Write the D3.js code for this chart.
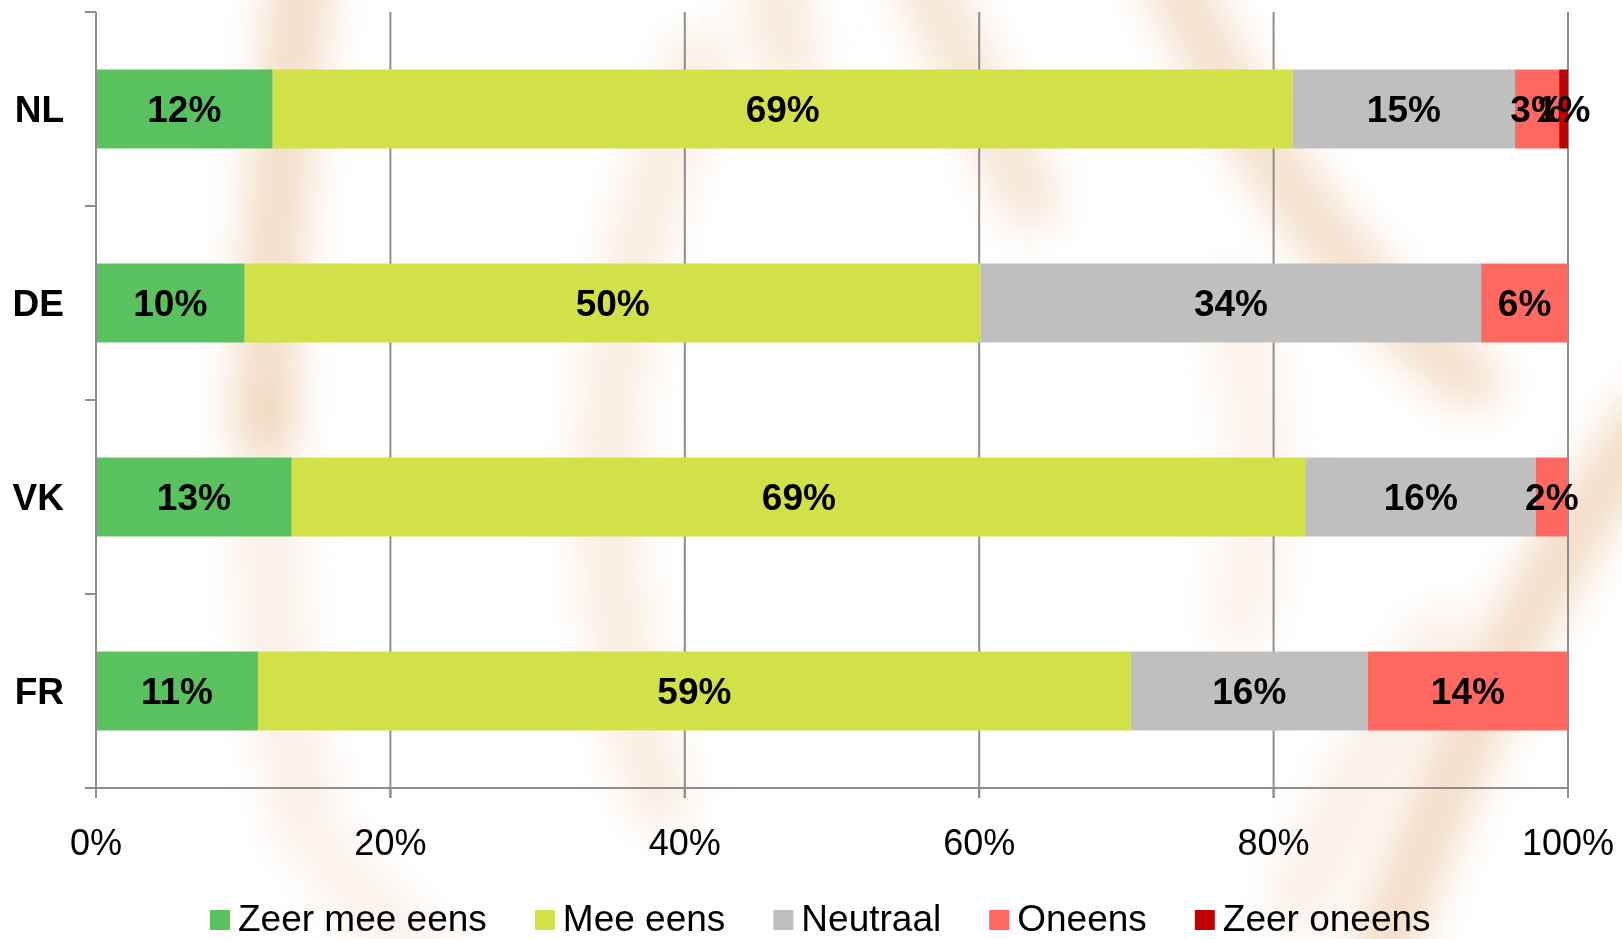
<!DOCTYPE html>
<html>
<head>
<meta charset="utf-8">
<script src="https://cdn.jsdelivr.net/npm/d3@7"></script>
<style>
  body { margin: 0; background: #fff; }
  svg { display: block; font-family: "Liberation Sans", Arial, sans-serif; }
</style>
</head>
<body>
<svg id="chart" width="1622" height="939"></svg>
<script>
// data (percent of respondents)
const countries = ["NL", "DE", "VK", "FR"];
const answers = ["Zeer mee eens", "Mee eens", "Neutraal", "Oneens", "Zeer oneens"];
const zeerMeeEens = [12.0, 10.1, 13.3, 11.0];
const meeEens     = [69.3, 50.0, 68.9, 59.3];
const neutraal    = [15.1, 34.0, 15.6, 16.1];
const oneens      = [3.0, 5.9, 2.2, 13.6];
const zeerOneens  = [0.6, 0, 0, 0];
const xTicks = [0, 20, 40, 60, 80, 100];
const colors = ["#59c15d", "#d3e149", "#bfbfbf", "#ff6961", "#c00000"];

const series = [zeerMeeEens, meeEens, neutraal, oneens, zeerOneens];
const rows = countries.map((c, i) => {
  const r = { country: c };
  answers.forEach((a, j) => r[a] = series[j][i]);
  return r;
});

const svg = d3.select("#chart");

// faint blurred peach watermark behind the chart
const defs = svg.append("defs");
defs.append("filter").attr("id", "blur")
  .attr("x", "-50%").attr("y", "-50%").attr("width", "200%").attr("height", "200%")
  .append("feGaussianBlur").attr("stdDeviation", 20);
const swirls = [
  { d: "M305,-40 Q270,200 265,420", o: 0.55 },
  { d: "M265,420 Q265,650 300,780", o: 0.25 },
  { d: "M300,820 Q360,900 430,960", o: 0.2 },
  { d: "M700,60 Q590,330 610,560 Q625,700 660,800", o: 0.3 },
  { d: "M770,-20 L790,60", o: 0.35 },
  { d: "M920,-30 Q975,90 1030,200", o: 0.4 },
  { d: "M1170,-30 Q1290,240 1470,380", o: 0.5 },
  { d: "M1230,300 Q1280,450 1240,620", o: 0.2 },
  { d: "M1650,420 Q1500,620 1380,960", o: 0.55 },
  { d: "M1440,640 Q1360,760 1300,900", o: 0.25 }
];
svg.append("g").attr("filter", "url(#blur)")
  .selectAll("path").data(swirls).enter().append("path")
  .attr("d", d => d.d)
  .attr("fill", "none")
  .attr("stroke", "#e9bf96")
  .attr("stroke-width", 60)
  .attr("stroke-linecap", "round")
  .attr("opacity", d => d.o);

const x = d3.scaleLinear().domain([0, 100]).range([96, 1568]);
const y = d3.scaleBand().domain(countries).range([12, 788])
  .paddingInner(0.593).paddingOuter(0.2965);

// gridlines
svg.append("g").selectAll("line").data(xTicks.slice(1)).enter().append("line")
  .attr("x1", d => x(d)).attr("x2", d => x(d))
  .attr("y1", 12).attr("y2", 798)
  .attr("stroke", "#8e8e8e").attr("stroke-width", 2);

// stacked bars
const stacked = d3.stack().keys(answers)(rows);
const layers = svg.append("g").selectAll("g").data(stacked).enter().append("g")
  .attr("fill", (d, i) => colors[i]);
layers.selectAll("rect").data(d => d).enter().append("rect")
  .attr("x", d => x(d[0]))
  .attr("y", d => y(d.data.country))
  .attr("width", d => x(d[1]) - x(d[0]))
  .attr("height", y.bandwidth());

// value labels
layers.selectAll("text").data(d => d.filter(s => s[1] - s[0] > 0)).enter().append("text")
  .attr("x", d => x((d[0] + d[1]) / 2))
  .attr("y", d => y(d.data.country) + y.bandwidth() / 2)
  .attr("dy", "0.36em")
  .attr("text-anchor", "middle")
  .attr("font-size", 37).attr("font-weight", "bold").attr("fill", "#000")
  .text(d => Math.round(d[1] - d[0]) + "%");

// y axis
const yAxis = svg.append("g");
yAxis.append("line").attr("x1", 96).attr("x2", 96).attr("y1", 12).attr("y2", 798)
  .attr("stroke", "#8e8e8e").attr("stroke-width", 2);
const bounds = countries.map(c => y(c) - y.step() * y.paddingInner() / 2).concat([788]);
yAxis.selectAll(".yt").data(bounds).enter().append("line")
  .attr("x1", 85).attr("x2", 96).attr("y1", d => d).attr("y2", d => d)
  .attr("stroke", "#8e8e8e").attr("stroke-width", 2);
yAxis.selectAll("text").data(countries).enter().append("text")
  .attr("x", 64).attr("y", d => y(d) + y.bandwidth() / 2).attr("dy", "0.36em")
  .attr("text-anchor", "end")
  .attr("font-size", 37).attr("font-weight", "bold")
  .text(d => d);

// x axis
const xAxis = svg.append("g");
xAxis.append("line").attr("x1", 85).attr("x2", 1568).attr("y1", 788).attr("y2", 788)
  .attr("stroke", "#8e8e8e").attr("stroke-width", 2);
xAxis.selectAll("line.xt").data(xTicks).enter().append("line")
  .attr("x1", d => x(d)).attr("x2", d => x(d)).attr("y1", 788).attr("y2", 798)
  .attr("stroke", "#8e8e8e").attr("stroke-width", 2);
xAxis.selectAll("text").data(xTicks).enter().append("text")
  .attr("x", d => x(d)).attr("y", 855)
  .attr("text-anchor", "middle").attr("font-size", 36)
  .text(d => d + "%");

// legend
const legend = svg.append("g");
let lx = 210;
answers.forEach((a, i) => {
  legend.append("rect").attr("x", lx).attr("y", 910).attr("width", 20).attr("height", 20)
    .attr("fill", colors[i]);
  const t = legend.append("text").attr("x", lx + 28).attr("y", 931)
    .attr("font-size", 37).text(a);
  lx += 28 + t.node().getComputedTextLength() + 48;
});
</script>
</body>
</html>
